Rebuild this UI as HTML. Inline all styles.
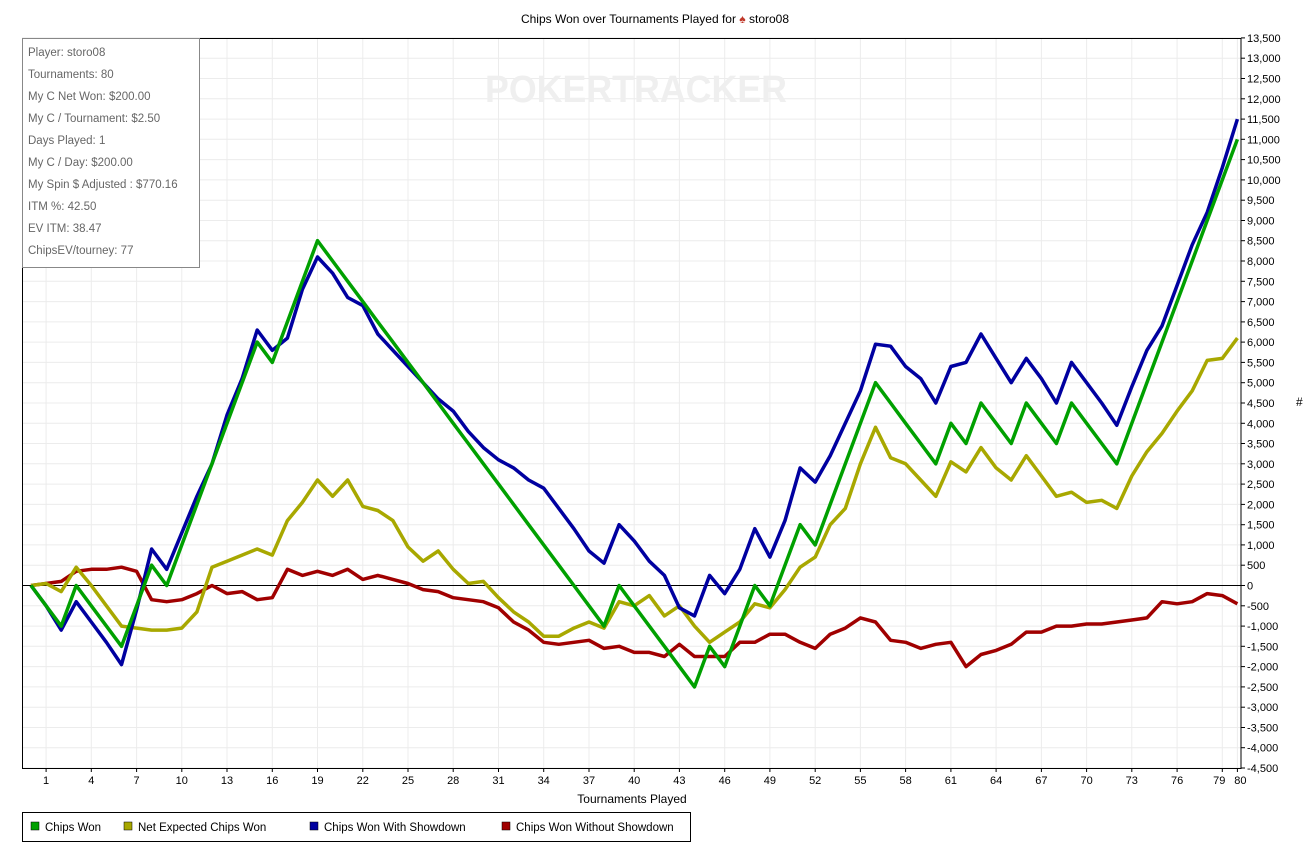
<!DOCTYPE html>
<html><head><meta charset="utf-8"><style>
body{margin:0;background:#fff;font-family:"Liberation Sans",sans-serif;}
svg text{font-family:"Liberation Sans",sans-serif;}
</style></head><body>
<svg id="s" width="1311" height="849" xmlns="http://www.w3.org/2000/svg"></svg>
<script>
const s=document.getElementById('s');
const X=i=>31+15.08*i, Y=v=>585.5-v*0.04056;
let h='';
h+='<text x="655" y="23" font-size="12" text-anchor="middle" fill="#000">Chips Won over Tournaments Played for <tspan fill="#c0392b">♠</tspan> storo08</text>';
for(let v=-4500;v<=13500;v+=500){const y=Y(v).toFixed(1);h+=`<line x1="22" x2="1241" y1="${y}" y2="${y}" stroke="#ececec"/>`;
h+=`<line x1="1241" x2="1245" y1="${y}" y2="${y}" stroke="#000"/><text x="1247" y="${+y+4}" font-size="11" fill="#000">${v.toLocaleString('en-US')}</text>`;}
const xt=[];for(let i=1;i<=79;i+=3)xt.push(i);xt.push(80);
xt.forEach(i=>{const x=X(i).toFixed(1);h+=`<line x1="${x}" x2="${x}" y1="38" y2="768" stroke="#ececec"/><line x1="${x}" x2="${x}" y1="768" y2="772" stroke="#000"/><text x="${i==79?+x-3:i==80?+x+3:x}" y="784" font-size="11" text-anchor="middle">${i}</text>`;});
h+='<text x="485" y="102" font-size="38" font-weight="bold" fill="#efefef" textLength="302" lengthAdjust="spacingAndGlyphs">POKERTRACKER</text>';
h+='<line x1="22" x2="1241" y1="585.5" y2="585.5" stroke="#000"/>';
h+='<rect x="22.5" y="38.5" width="1218.5" height="730" fill="none" stroke="#000"/>';
h+='<text x="632" y="803" font-size="12" text-anchor="middle">Tournaments Played</text>';
h+='<text x="1296" y="406" font-size="12">#</text>';
const green=[0,-500,-1000,0,-500,-1000,-1500,-500,500,0];
for(let i=10;i<=15;i++)green.push((i-9)*1000);
green.push(5500,6500,7500,8500);
for(let i=20;i<=38;i++)green.push(8500-(i-19)*500);
green.push(0,-500,-1000,-1500,-2000,-2500,-1500,-2000,-1000,0,-500,500,1500,1000,2000,3000,4000,5000,4500,4000,3500,3000,4000,3500,4500,4000,3500,4500,4000,3500,4500,4000,3500,3000);
for(let i=73;i<=80;i++)green.push(3000+(i-72)*1000);
const blue=[0,-500,-1100,-400,-900,-1400,-1950,-600,900,400,1300,2200,3000,4200,5100,6300,5800,6100,7300,8100,7700,7100,6900,6200,5800,5400,5000,4600,4300,3800,3400,3100,2900,2600,2400,1900,1400,850,550,1500,1100,600,250,-550,-750,250,-200,400,1400,700,1600,2900,2550,3200,4000,4800,5950,5900,5400,5100,4500,5400,5500,6200,5600,5000,5600,5100,4500,5500,5000,4500,3950,4900,5800,6400,7400,8400,9200,10300,11500];
const yel=[0,50,-150,450,0,-500,-1000,-1050,-1100,-1100,-1050,-650,450,600,750,900,750,1600,2050,2600,2200,2600,1950,1850,1600,950,600,850,400,50,100,-300,-650,-900,-1250,-1250,-1050,-900,-1050,-400,-500,-250,-750,-500,-1000,-1400,-1150,-900,-450,-550,-100,450,700,1500,1900,3000,3900,3150,3000,2600,2200,3050,2800,3400,2900,2600,3200,2700,2200,2300,2050,2100,1900,2700,3300,3750,4300,4800,5550,5600,6100];
const red=[0,50,100,350,400,400,450,350,-350,-400,-350,-200,0,-200,-150,-350,-300,400,250,350,250,400,150,250,150,50,-100,-150,-300,-350,-400,-550,-900,-1100,-1400,-1450,-1400,-1350,-1550,-1500,-1650,-1650,-1750,-1450,-1750,-1750,-1750,-1400,-1400,-1200,-1200,-1400,-1550,-1200,-1050,-800,-900,-1350,-1400,-1550,-1450,-1400,-2000,-1700,-1600,-1450,-1150,-1150,-1000,-1000,-950,-950,-900,-850,-800,-400,-450,-400,-200,-250,-450];
const pl=(d,c)=>`<polyline fill="none" stroke="${c}" stroke-width="3.5" stroke-linejoin="round" points="${d.map((v,i)=>X(i).toFixed(1)+','+Y(v).toFixed(1)).join(' ')}"/>`;
h+=pl(red,'#a00000')+pl(yel,'#a8a800')+pl(blue,'#0000a0')+pl(green,'#00a000');
h+='<rect x="22.5" y="38.5" width="177" height="229" fill="#fff" stroke="#888"/>';
["Player: storo08","Tournaments: 80","My C Net Won: $200.00","My C / Tournament: $2.50","Days Played: 1","My C / Day: $200.00","My Spin $ Adjusted : $770.16","ITM %: 42.50","EV ITM: 38.47","ChipsEV/tourney: 77"].forEach((t,k)=>{h+=`<text x="28" y="${56+k*22}" font-size="11.5" fill="#666">${t}</text>`;});
h+='<rect x="22.5" y="812.5" width="668" height="29" fill="#fff" stroke="#000"/>';
[[31,'#00a000','Chips Won'],[124,'#a8a800','Net Expected Chips Won'],[310,'#0000a0','Chips Won With Showdown'],[502,'#a00000','Chips Won Without Showdown']].forEach(([x,c,t])=>{h+=`<rect x="${x}" y="822" width="8" height="8" fill="${c}" stroke="#000" stroke-width="0.5"/><text x="${x+14}" y="831" font-size="11.5">${t}</text>`;});
s.innerHTML=h;
</script>
</body></html>
